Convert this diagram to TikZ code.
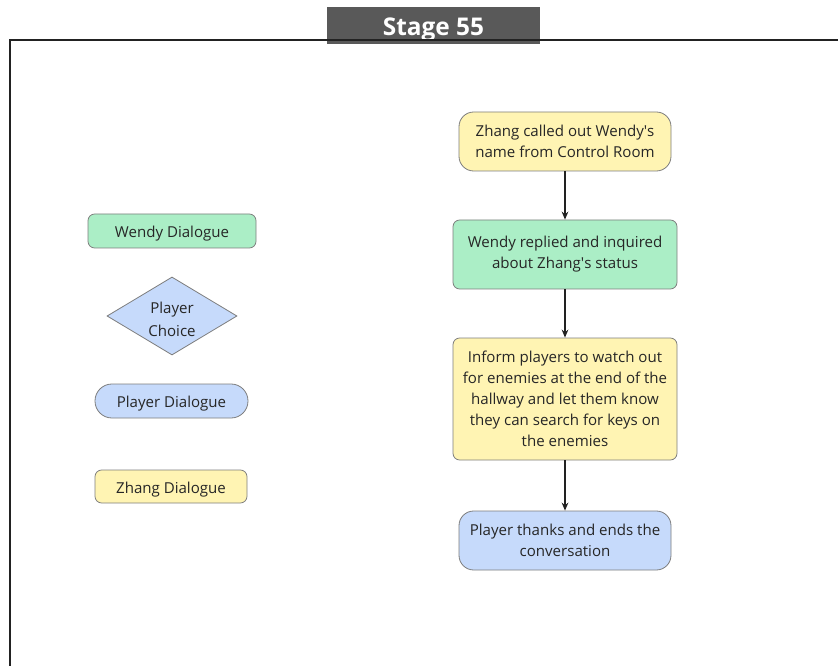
\documentclass[tikz,border=0pt]{standalone}
\usepackage{fontspec}
\setmainfont{Open Sans}
\usepackage{tikz}
\usetikzlibrary{arrows.meta,shapes.geometric}

\definecolor{wendygreen}{HTML}{ABEEC6}
\definecolor{zhangyellow}{HTML}{FFF4B3}
\definecolor{playerblue}{HTML}{C6DAFB}
\definecolor{edgegray}{HTML}{7D7D7D}
\definecolor{titlegray}{HTML}{595959}
\definecolor{framegray}{HTML}{222222}

\tikzset{
  dlg/.style={draw=edgegray, line width=0.6pt, align=center, inner sep=0pt,
    font=\fontsize{11.3}{15.8}\selectfont, text=black!85},
  oneline/.style={text height=9.8pt, text depth=0pt},
  wendy/.style={dlg, fill=wendygreen, rounded corners=5pt},
  zhang/.style={dlg, fill=zhangyellow, rounded corners=5pt},
  zhangcall/.style={dlg, fill=zhangyellow, rounded corners=11pt},
  player/.style={dlg, fill=playerblue, rounded corners=11pt},
  flowarrow/.style={-{Stealth[length=6pt,width=5pt]}, line width=1.2pt, draw=framegray}
}
\newcommand{\apos}{\textquotesingle}

\begin{document}
\begin{tikzpicture}[x=0.75pt,y=-0.75pt]
			\useasboundingbox (0,0) rectangle (838,666);
			% title and frame
			\node[fill=titlegray, text=white, minimum width=159.75pt, minimum height=27.75pt,
			  inner sep=0pt, text height=15.5pt, text depth=0pt,
			  font=\fontsize{18.3}{20}\selectfont\bfseries] (stage) at (433.5,25.5) {Stage 55};
			\draw[framegray, line width=1.6pt] (10,666) -- (10,40) -- (838,40);
			% legend
			\node[wendy, oneline, minimum width=126pt, minimum height=25.5pt] (legwendy) at (172,231) {Wendy Dialogue};
			\node[dlg, diamond, fill=playerblue, minimum width=97.5pt, minimum height=58.5pt, aspect=1.67] (legchoice) at (172,316) {\raisebox{-2.5pt}[\height][\depth]{\shortstack{Player\\[2.5pt]Choice}}};
			\node[player, oneline, rounded corners=12.7pt, minimum width=114.75pt, minimum height=25.5pt] (legplayer) at (171.5,401) {Player Dialogue};
			\node[zhang, oneline, minimum width=114pt, minimum height=24.75pt] (legzhang) at (171,486.5) {Zhang Dialogue};
			% flow
			\node[zhangcall, minimum width=159pt, minimum height=44.25pt] (call) at (565,141.5) {Zhang called out Wendy\apos s\\name from Control Room};
			\node[wendy, minimum width=168pt, minimum height=51.75pt] (reply) at (565,254.5) {Wendy replied and inquired\\about Zhang\apos s status};
			\node[zhang, minimum width=168pt, minimum height=91.5pt] (inform) at (565,399) {Inform players to watch out\\for enemies at the end of the\\hallway and let them know\\they can search for keys on\\the enemies};
			\node[player, minimum width=159pt, minimum height=44.25pt] (thanks) at (565,540.5) {Player thanks and ends the\\conversation};
			\draw[flowarrow] (call) -- (reply);
			\draw[flowarrow] (reply) -- (inform);
			\draw[flowarrow] (inform) -- (thanks);
		\end{tikzpicture}
\end{document}
